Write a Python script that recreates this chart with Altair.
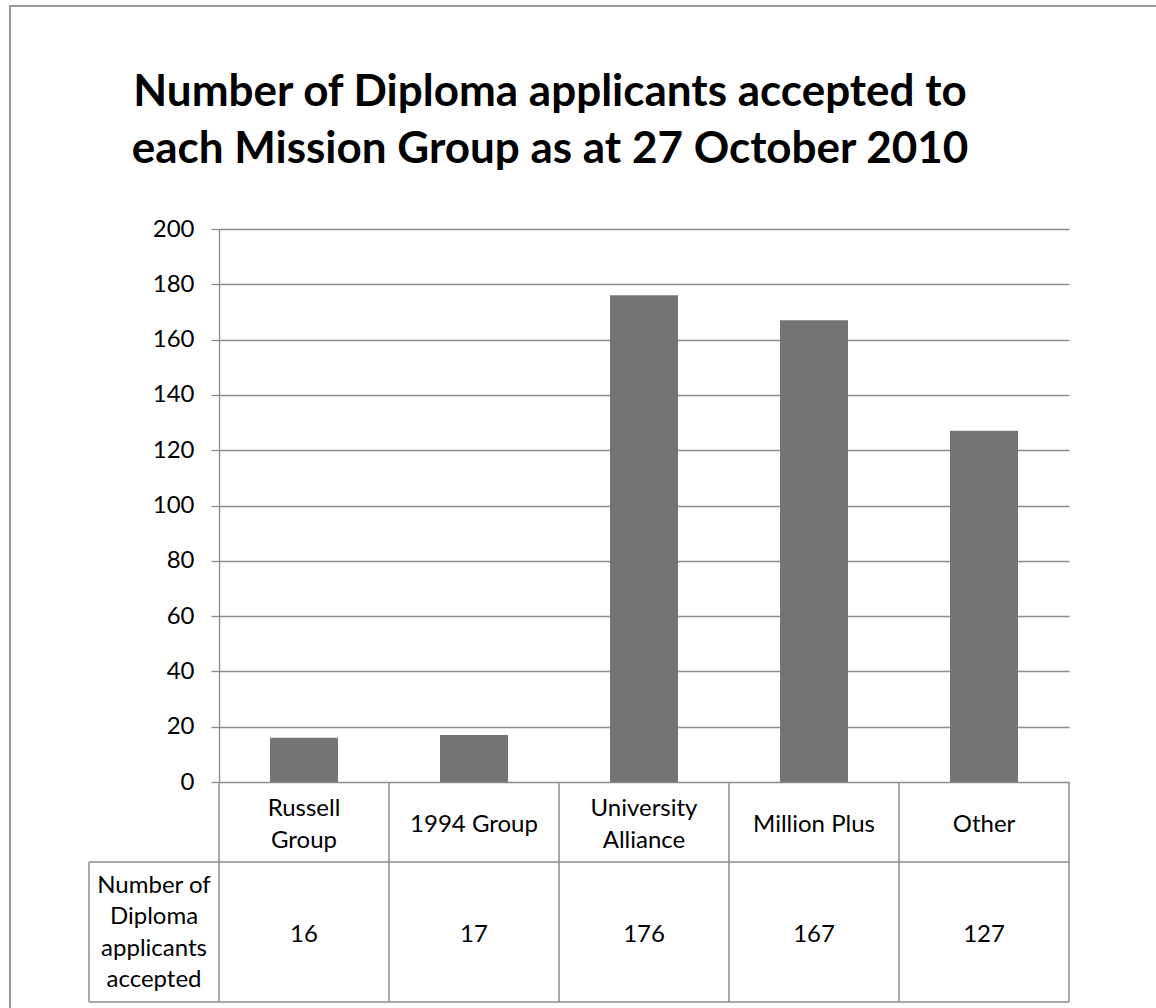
import altair as alt
import pandas as pd

categories = ["Russell Group", "1994 Group", "University Alliance", "Million Plus", "Other"]
labels = ["Russell\nGroup", "1994 Group", "University\nAlliance", "Million Plus", "Other"]
values = [16, 17, 176, 167, 127]
row_header = "Number of\nDiploma\napplicants\naccepted"
title_lines = ["Number of Diploma applicants accepted to", "each Mission Group as at 27 October 2010"]
y_ticks = list(range(0, 201, 20))

df = pd.DataFrame({"cat": categories, "label": labels, "value": values})

FONT = "Lato"
GRID = "#8c8c8c"
BAR = "#747474"
FS = 24
LH = 31.5
W, H = 850, 553
ROW1, ROW2 = 80, 140

base = alt.Chart(df)

bars = base.mark_bar(width={"band": 0.4}, color=BAR).encode(
    x=alt.X("cat:N", sort=categories, axis=None,
            scale=alt.Scale(paddingInner=0, paddingOuter=0)),
    y=alt.Y("value:Q", scale=alt.Scale(domain=[0, 200], nice=False),
            axis=alt.Axis(values=y_ticks, title=None, grid=True, gridColor=GRID,
                          gridWidth=1.3, domainColor=GRID, domainWidth=1.3,
                          tickColor=GRID, tickWidth=1.3, tickSize=8,
                          labelFont=FONT, labelFontSize=FS, labelColor="#000000",
                          labelPadding=17)),
)

# table vertical lines at column starts
vlines = base.mark_rule(color=GRID, strokeWidth=1.5).encode(
    x=alt.X("cat:N", sort=categories, bandPosition=0),
    y=alt.value(H), y2=alt.value(H + ROW1 + ROW2),
)
# right edge of table
vend = alt.Chart(df[df["cat"] == categories[-1]]).mark_rule(color=GRID, strokeWidth=1.5).encode(
    x=alt.X("cat:N", sort=categories, bandPosition=1),
    y=alt.value(H), y2=alt.value(H + ROW1 + ROW2),
)
one = df.head(1)
hl1 = alt.Chart(one).mark_rule(color=GRID, strokeWidth=1.5).encode(
    x=alt.value(-130), x2=alt.value(W), y=alt.value(H + ROW1))
hl2 = alt.Chart(one).mark_rule(color=GRID, strokeWidth=1.5).encode(
    x=alt.value(-130), x2=alt.value(W), y=alt.value(H + ROW1 + ROW2))
hl0 = alt.Chart(one).mark_rule(color=GRID, strokeWidth=1.5).encode(
    x=alt.value(-130), y=alt.value(H + ROW1), y2=alt.value(H + ROW1 + ROW2))

cell_mid = H + ROW1 / 2 + 3
cat_text1 = base.transform_filter("indexof(datum.label, '\\n') < 0").mark_text(
    font=FONT, fontSize=FS, baseline="middle", color="#000000").encode(
    x=alt.X("cat:N", sort=categories, bandPosition=0.5),
    y=alt.value(cell_mid),
    text="label:N",
)
cat_text2 = base.transform_filter("indexof(datum.label, '\\n') >= 0").mark_text(
    font=FONT, fontSize=FS, lineBreak="\n", lineHeight=LH, baseline="middle",
    color="#000000").encode(
    x=alt.X("cat:N", sort=categories, bandPosition=0.5),
    y=alt.value(cell_mid - LH / 2),
    text="label:N",
)
val_text = base.mark_text(font=FONT, fontSize=FS, baseline="middle", color="#000000").encode(
    x=alt.X("cat:N", sort=categories, bandPosition=0.5),
    y=alt.value(H + ROW1 + ROW2 / 2 + 3),
    text="value:Q",
)
hdr_text = alt.Chart(pd.DataFrame({"t": [row_header]})).mark_text(
    font=FONT, fontSize=FS, lineBreak="\n", lineHeight=LH, baseline="middle",
    color="#000000").encode(
    x=alt.value(-65), y=alt.value(H + ROW1 + ROW2 / 2 + 1 - 1.5 * LH), text="t:N")

title_text = alt.Chart(pd.DataFrame({"t": ["\n".join(title_lines)]})).mark_text(
    font=FONT, fontSize=44, fontWeight="bold", lineBreak="\n", lineHeight=57,
    baseline="middle", color="#000000").encode(
    x=alt.value(331), y=alt.value(-136), text="t:N")

frame = alt.Chart(one).mark_rect(filled=False, stroke="#9a9a9a", strokeWidth=2).encode(
    x=alt.value(-209), y=alt.value(-223), x2=alt.value(1000), y2=alt.value(850))

chart = alt.layer(frame, bars, vlines, vend, hl1, hl2, hl0, cat_text1, cat_text2,
                  val_text, hdr_text, title_text).properties(
    width=W, height=H,
    autosize=alt.AutoSizeParams(type="none"),
    padding={"left": 219, "top": 229, "right": 87, "bottom": 226},
).configure_view(stroke=None)

chart.save("out.html", embed_options={"renderer": "svg", "actions": False})
